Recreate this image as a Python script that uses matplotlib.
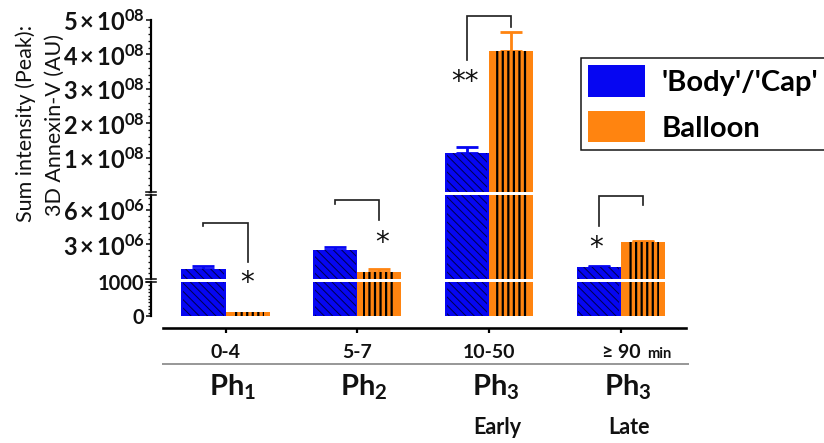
import matplotlib
matplotlib.use('Agg')
import matplotlib.pyplot as plt
from matplotlib.patches import Patch
from matplotlib.lines import Line2D
from matplotlib.ticker import MultipleLocator, FixedLocator
import matplotlib.transforms as mtransforms
import numpy as np

plt.rcParams['font.family'] = ['Lato', 'DejaVu Sans']
plt.rcParams['mathtext.fontset'] = 'custom'
plt.rcParams['mathtext.rm'] = 'Lato:bold'
plt.rcParams['mathtext.bf'] = 'Lato:bold'
plt.rcParams['mathtext.it'] = 'Lato:italic'

# ---------------- data ----------------
groups = ['0-4', '5-7', '10-50', '\u2265 90']
group_unit = 'min'
phases = [r'$\mathbf{Ph}_{\mathbf{1}}$', r'$\mathbf{Ph}_{\mathbf{2}}$',
          r'$\mathbf{Ph}_{\mathbf{3}}$', r'$\mathbf{Ph}_{\mathbf{3}}$']
stages = ['', '', 'Early', 'Late']
series = ["'Body'/'Cap'", 'Balloon']

body = [0.87e6, 2.52e6, 1.13e8, 1.04e6]
body_err = [0.26e6, 0.26e6, 0.17e8, 0.08e6]
balloon = [120, 0.63e6, 4.1e8, 3.2e6]
balloon_err = [0, 0.2e6, 0.55e8, 0.1e6]

# broken y axis segments (bottom to top)
seg_low = (0, 1000)
seg_mid = (1000, 7.3e6)
seg_high = (0, 5e8)
low_ticks = [0, 1000]
low_labels = ['0', '1000']
mid_ticks = [3e6, 6e6]
high_ticks = [1e8, 2e8, 3e8, 4e8, 5e8]

# significance brackets: group, segment, top, left end, right end, label, label dx, label y
sig = [
    (0, 'mid', 4.87e6, 4.6e6, 1.48e6, '*', 0.16, 0.17e6),
    (1, 'mid', 6.87e6, 6.52e6, 5.13e6, '*', 0.19, 3.65e6),
    (2, 'high', 5.12e8, 3.84e8, 4.8e8, '**', -0.18, 3.37e8),
    (3, 'mid', 7.21e6, 4.6e6, 6.43e6, '*', -0.19, 3.2e6),
]

# ---------------- style ----------------
BLUE = '#0606f2'
BLUE_H = '#00004a'
ORANGE = '#ff8410'
W, H = 824, 443
PX = 72 / 100.0  # points per pixel

fig = plt.figure(figsize=(W / 100, H / 100), dpi=100)


def rect(x0, y0, x1, y1):
    return [x0 / W, 1 - y1 / H, (x1 - x0) / W, (y1 - y0) / H]


ax_high = fig.add_axes(rect(151, 20, 687, 192))
ax_mid = fig.add_axes(rect(151, 195, 687, 279))
ax_low = fig.add_axes(rect(151, 282, 687, 316))
axes = {'high': ax_high, 'mid': ax_mid, 'low': ax_low}

x = np.arange(len(groups))
w = 0.335
xlim = (-0.566, 3.503)

body_a = np.array(body)
body_e = np.array(body_err)
ball_a = np.array(balloon)
ball_e = np.array(balloon_err)


def sci_label(v):
    e = int(np.floor(np.log10(v)))
    m = int(round(v / 10 ** e))
    return r'$%d\,{\times}\,10^{%02d}$' % (m, e)


# floor = top of the segment below (values under it are not shown in this segment)
segs = [('high', ax_high, seg_high, seg_mid[1]),
        ('mid', ax_mid, seg_mid, seg_low[1]),
        ('low', ax_low, seg_low, -np.inf)]

for name, ax, lim, floor in segs:
    ax.set_xlim(*xlim)
    ax.set_ylim(*lim)
    for s in ['top', 'right']:
        ax.spines[s].set_visible(False)
    ax.spines['left'].set_linewidth(2.2 * PX)
    ax.patch.set_alpha(0)
    ax.tick_params(axis='y', which='major', direction='out', length=5 * PX, width=1.6 * PX,
                   labelsize=17, pad=1, colors='#111111')
    ax.tick_params(axis='y', which='minor', direction='out', length=3 * PX, width=1.3 * PX,
                   colors='#111111')

    for vals, errs, xs, col, hcol, hatch, hlw, hfrac in [
            (body_a, body_e, x - w / 2, BLUE, BLUE_H, '\\\\\\\\', 0.7, 0.92),
            (ball_a, ball_e, x + w / 2, ORANGE, 'black', '|||', 1.6, 0.72)]:
        m = vals > floor
        if m.any():
            ax.bar(xs[m], vals[m], w, color=col, linewidth=0, zorder=2)
            hb = ax.bar(xs[m], vals[m], w * hfrac, facecolor='none', edgecolor=hcol,
                        linewidth=0, hatch=hatch, zorder=3)
            for p in hb:
                if hasattr(p, 'set_hatch_linewidth'):
                    p.set_hatch_linewidth(hlw)
        me = (vals + errs > floor) & (vals < lim[1]) & (errs > 0)
        if me.any():
            ax.errorbar(xs[me], vals[me], yerr=[np.zeros(me.sum()), errs[me]], fmt='none',
                        ecolor=col, elinewidth=2.8 * PX, capsize=8, capthick=2.8 * PX, zorder=1)

    if name != 'low':
        ax.spines['bottom'].set_visible(False)
        ax.set_xticks([])

ax_high.yaxis.set_major_locator(FixedLocator(high_ticks))
ax_high.set_yticklabels([sci_label(v) for v in high_ticks])
ax_high.yaxis.set_minor_locator(MultipleLocator(2e7))
ax_mid.yaxis.set_major_locator(FixedLocator(mid_ticks))
ax_mid.set_yticklabels([sci_label(v) for v in mid_ticks])
ax_mid.yaxis.set_minor_locator(MultipleLocator(5e5))
ax_low.yaxis.set_major_locator(FixedLocator(low_ticks))
ax_low.set_yticklabels(low_labels, fontsize=14.5, fontweight='bold')
ax_low.yaxis.set_minor_locator(MultipleLocator(100))

# x axis (offset GraphPad style)
ax_low.spines['bottom'].set_position(('outward', 12 * PX))
ax_low.spines['bottom'].set_bounds(-0.475, 3.497)
ax_low.spines['bottom'].set_linewidth(2.6 * PX)
ax_low.set_xticks(x)
ax_low.set_xticklabels([''] * len(x))
ax_low.tick_params(axis='x', direction='out', length=5 * PX, width=2.2 * PX)

# axis break marks
for yb in [192, 195, 279, 282]:
    fig.add_artist(Line2D([146 / W, 156 / W], [1 - yb / H] * 2, color='#111111',
                          lw=1.6 * PX))

# significance brackets
for g, seg, ytop, yl, yr, lab, dx, ylab in sig:
    ax = axes[seg]
    xl, xr = x[g] - w / 2, x[g] + w / 2
    ax.plot([xl, xl, xr, xr], [yl, ytop, ytop, yr], color='#222222', lw=1.7 * PX,
            clip_on=False, zorder=5, solid_joinstyle='miter')
    star_tr = mtransforms.offset_copy(ax.transData, fig=fig, y=-6, units='dots')
    ax.text(x[g] + dx, ylab, lab, transform=star_tr, ha='center', va='center', fontsize=20,
            family='DejaVu Sans', color='#111111', clip_on=False, zorder=5)

# x labels
tr = mtransforms.blended_transform_factory(ax_low.transData, fig.transFigure)
for i, g in enumerate(groups):
    if i < len(groups) - 1:
        ax_low.text(x[i], 1 - 358.5 / H, g, transform=tr, ha='center', va='baseline',
                    fontsize=14, fontweight='bold', color='#111111')
    else:
        ax_low.text(x[i] + 0.148, 1 - 358.5 / H, g, transform=tr, ha='right', va='baseline',
                    fontsize=14, fontweight='bold', color='#111111')
        ax_low.text(x[i] + 0.2, 1 - 358.5 / H, group_unit, transform=tr, ha='left',
                    va='baseline', fontsize=10.5, fontweight='bold', color='#111111')
    ax_low.text(x[i] + 0.05, 1 - 395 / H, phases[i], transform=tr, ha='center',
                va='baseline', fontsize=21, color='#111111')
    if stages[i]:
        ax_low.text(x[i] + 0.06, 1 - 434 / H, stages[i], transform=tr, ha='center',
                    va='baseline', fontsize=15.5, fontweight='bold', color='#111111')

fig.add_artist(Line2D([163 / W, 688 / W], [1 - 364 / H] * 2, color='#999999', lw=2 * PX))

# y label
fig.text(26 / W, 1 - 123 / H, 'Sum intensity (Peak):', rotation=90, ha='center',
         va='center', fontsize=15.5, color='#111111')
fig.text(55 / W, 1 - 125 / H, '3D Annexin-V (AU)', rotation=90, ha='center',
         va='center', fontsize=15.5, color='#111111')

# legend
handles = [Patch(facecolor=BLUE, edgecolor='none'), Patch(facecolor=ORANGE, edgecolor='none')]
leg = fig.legend(handles, series, loc='upper left', bbox_to_anchor=(581 / W, 1 - 58 / H),
                 bbox_transform=fig.transFigure, borderaxespad=0, fancybox=False,
                 framealpha=1, edgecolor='#111111', prop={'weight': 'bold', 'size': 21},
                 handlelength=1.95, handleheight=1.27, labelspacing=0.5,
                 handletextpad=0.55, borderpad=0.25)
leg.get_frame().set_linewidth(1.5 * PX)

fig.savefig('out.png', dpi=100)
